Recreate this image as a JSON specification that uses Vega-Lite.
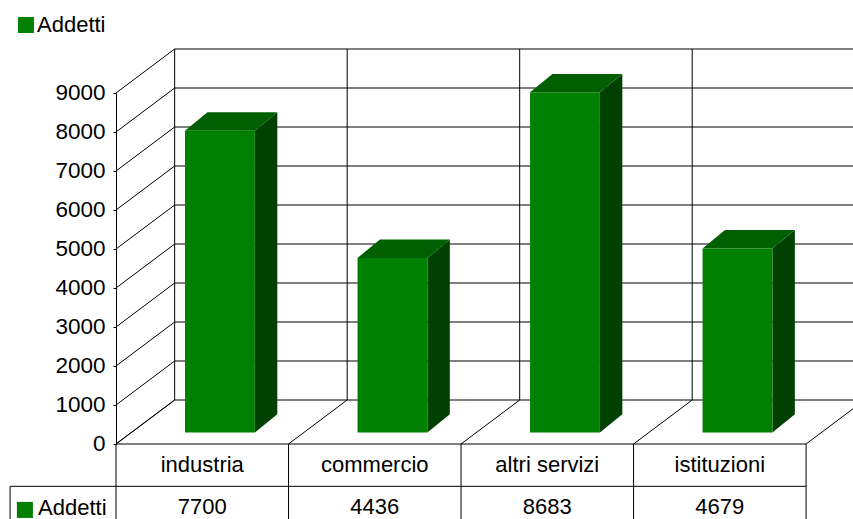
{
"$schema":"https://vega.github.io/schema/vega-lite/v6.json",
"width":737,"height":351,
"autosize":{"type":"none"},
"padding":{"left":116,"top":93,"right":0,"bottom":75},
"background":"white",
"config":{"view":{"stroke":null},"text":{"font":"Liberation Sans","fontSize":22,"color":"#000"},
 "axisY":{"labelFont":"Liberation Sans","grid":false,"format":"d","tickCount":10,"labelFontSize":22.5,"labelColor":"#000","labelPadding":8,"labelOffset":-1,"tickSize":3,"tickColor":"#000","domainColor":"#000","labelOverlap":false,"labelFlush":false},
 "legend":{"labelFont":"Liberation Sans"}},
"datasets":{
"bars":[{"settore":"industria","addetti":7700,"serie":"Addetti"},{"settore":"commercio","addetti":4436,"serie":"Addetti"},{"settore":"altri servizi","addetti":8683,"serie":"Addetti"},{"settore":"istituzioni","addetti":4679,"serie":"Addetti"}],
"levels":[{"v":0},{"v":1000},{"v":2000},{"v":3000},{"v":4000},{"v":5000},{"v":6000},{"v":7000},{"v":8000},{"v":9000}],
"cols":[{"k":0},{"k":1},{"k":2},{"k":3},{"k":4}]
},
"layer":[
{"data":{"name":"levels"},"transform":[{"calculate":"0.34","as":"a"},{"calculate":"4.272","as":"b"},{"calculate":"datum.v+1128","as":"w"}],
 "mark":{"type":"rule","color":"#000","strokeWidth":1},
 "encoding":{"x":{"field":"a","type":"quantitative","scale":{"domain":[0,4.272],"nice":false,"zero":false},"axis":null},"x2":{"field":"b"},
 "y":{"field":"w","type":"quantitative","scale":{"domain":[0,9000],"nice":false,"zero":false},"axis":{"title":null}}}},
{"data":{"name":"levels"},"transform":[{"calculate":"0","as":"a"},{"calculate":"0.34","as":"b"},{"calculate":"datum.v+1128","as":"w"}],
 "mark":{"type":"rule","color":"#000","strokeWidth":1},
 "encoding":{"x":{"field":"a","type":"quantitative","scale":{"domain":[0,4.272],"nice":false,"zero":false},"axis":null},"x2":{"field":"b"},
 "y":{"field":"v","type":"quantitative","scale":{"domain":[0,9000],"nice":false,"zero":false},"axis":{"title":null}},
 "y2":{"field":"w"}}},
{"data":{"name":"cols"},"transform":[{"filter":"datum.k<4"},{"calculate":"datum.k+0.34","as":"a"},{"calculate":"1128","as":"w0"},{"calculate":"10128","as":"w1"}],
 "mark":{"type":"rule","color":"#000","strokeWidth":1},
 "encoding":{"x":{"field":"a","type":"quantitative","scale":{"domain":[0,4.272],"nice":false,"zero":false},"axis":null},
 "y":{"field":"w0","type":"quantitative","scale":{"domain":[0,9000],"nice":false,"zero":false},"axis":{"title":null}},"y2":{"field":"w1"}}},
{"data":{"name":"cols"},"transform":[{"calculate":"datum.k+0.34","as":"a"},{"calculate":"0","as":"w0"},{"calculate":"1128","as":"w1"}],
 "mark":{"type":"rule","color":"#000","strokeWidth":1},
 "encoding":{"x":{"field":"k","type":"quantitative","scale":{"domain":[0,4.272],"nice":false,"zero":false},"axis":null},"x2":{"field":"a"},
 "y":{"field":"w0","type":"quantitative","scale":{"domain":[0,9000],"nice":false,"zero":false},"axis":{"title":null}},"y2":{"field":"w1"}}},
{"data":{"name":"bars"},"transform":[{"calculate":"indexof(['industria','commercio','altri servizi','istituzioni'],datum.settore)","as":"i"},{"calculate":"[0,1]","as":"d"},{"flatten":["d"]},
  {"calculate":"datum.i+0.805+0.13*datum.d","as":"sx"},{"calculate":"datum.addetti+335+470*datum.d","as":"st"},{"calculate":"295+470*datum.d","as":"sb"}],
 "mark":{"type":"area","color":"#004000","orient":"vertical"},
 "encoding":{"x":{"field":"sx","type":"quantitative","scale":{"domain":[0,4.272],"nice":false,"zero":false},"axis":null},
 "y":{"field":"st","type":"quantitative","stack":null,"scale":{"domain":[0,9000],"nice":false,"zero":false},"axis":{"title":null}},"y2":{"field":"sb"},"detail":{"field":"settore"}}},
{"data":{"name":"bars"},"transform":[{"calculate":"indexof(['industria','commercio','altri servizi','istituzioni'],datum.settore)","as":"i"},{"calculate":"[0,1]","as":"d"},{"flatten":["d"]},
  {"calculate":"datum.i+0.4+0.13*datum.d","as":"tl"},{"calculate":"datum.i+0.805+0.13*datum.d","as":"tr"},{"calculate":"datum.addetti+335+470*datum.d","as":"ty"}],
 "mark":{"type":"area","color":"#005f00","orient":"horizontal"},
 "encoding":{"y":{"field":"ty","type":"quantitative","scale":{"domain":[0,9000],"nice":false,"zero":false},"axis":{"title":null}},
 "x":{"field":"tl","type":"quantitative","stack":null,"scale":{"domain":[0,4.272],"nice":false,"zero":false},"axis":null},"x2":{"field":"tr"},"detail":{"field":"settore"}}},
{"data":{"name":"bars"},"transform":[{"calculate":"indexof(['industria','commercio','altri servizi','istituzioni'],datum.settore)","as":"i"},{"calculate":"datum.i+0.4","as":"l"},{"calculate":"datum.i+0.805","as":"r"},{"calculate":"datum.addetti+335","as":"t"},{"calculate":"295","as":"b"}],
 "mark":{"type":"rect"},
 "encoding":{"x":{"field":"l","type":"quantitative","scale":{"domain":[0,4.272],"nice":false,"zero":false},"axis":null},"x2":{"field":"r"},
 "y":{"field":"t","type":"quantitative","scale":{"domain":[0,9000],"nice":false,"zero":false},"axis":{"title":null}},"y2":{"field":"b"},
 "color":{"field":"serie","type":"nominal","scale":{"domain":["Addetti"],"range":["#008000"]},
   "legend":{"title":null,"orient":"none","legendX":-101,"legendY":-79,"symbolType":"square","symbolSize":256,"symbolStrokeWidth":0,"labelFontSize":22,"labelColor":"#000","labelOffset":0}}}},
{"data":{"name":"cols"},"transform":[{"calculate":"0","as":"w0"},{"calculate":"-1930","as":"w1"}],
 "mark":{"type":"rule","color":"#000","strokeWidth":1},
 "encoding":{"x":{"field":"k","type":"quantitative","scale":{"domain":[0,4.272],"nice":false,"zero":false},"axis":null},
 "y":{"field":"w0","type":"quantitative","scale":{"domain":[0,9000],"nice":false,"zero":false},"axis":{"title":null}},"y2":{"field":"w1"}}},
{"data":{"values":[{"a":0,"b":4,"w":0},{"a":-0.614,"b":4,"w":-1085}]},
 "mark":{"type":"rule","color":"#000","strokeWidth":1},
 "encoding":{"x":{"field":"a","type":"quantitative","scale":{"domain":[0,4.272],"nice":false,"zero":false},"axis":null},"x2":{"field":"b"},
 "y":{"field":"w","type":"quantitative","scale":{"domain":[0,9000],"nice":false,"zero":false},"axis":{"title":null}}}},
{"data":{"values":[{"a":-0.614,"w0":-1085,"w1":-1930}]},
 "mark":{"type":"rule","color":"#000","strokeWidth":1},
 "encoding":{"x":{"field":"a","type":"quantitative","scale":{"domain":[0,4.272],"nice":false,"zero":false},"axis":null},
 "y":{"field":"w0","type":"quantitative","scale":{"domain":[0,9000],"nice":false,"zero":false},"axis":{"title":null}},"y2":{"field":"w1"}}},
{"data":{"name":"bars"},"transform":[{"calculate":"indexof(['industria','commercio','altri servizi','istituzioni'],datum.settore)+0.5","as":"c"},{"calculate":"-545","as":"w"}],
 "mark":{"type":"text","align":"center","baseline":"middle"},
 "encoding":{"x":{"field":"c","type":"quantitative","scale":{"domain":[0,4.272],"nice":false,"zero":false},"axis":null},
 "y":{"field":"w","type":"quantitative","scale":{"domain":[0,9000],"nice":false,"zero":false},"axis":{"title":null}},"text":{"field":"settore"}}},
{"data":{"name":"bars"},"transform":[{"calculate":"indexof(['industria','commercio','altri servizi','istituzioni'],datum.settore)+0.5","as":"c"},{"calculate":"-1615","as":"w"}],
 "mark":{"type":"text","align":"center","baseline":"middle"},
 "encoding":{"x":{"field":"c","type":"quantitative","scale":{"domain":[0,4.272],"nice":false,"zero":false},"axis":null},
 "y":{"field":"w","type":"quantitative","scale":{"domain":[0,9000],"nice":false,"zero":false},"axis":{"title":null}},"text":{"field":"addetti","type":"quantitative","format":"d"}}},
{"data":{"values":[{"a":-0.528,"w":-1690,"serie":"Addetti"}]},
 "mark":{"type":"point","shape":"square","filled":true,"size":256,"color":"#008000","opacity":1},
 "encoding":{"x":{"field":"a","type":"quantitative","scale":{"domain":[0,4.272],"nice":false,"zero":false},"axis":null},
 "y":{"field":"w","type":"quantitative","scale":{"domain":[0,9000],"nice":false,"zero":false},"axis":{"title":null}}}},
{"data":{"values":[{"a":-0.452,"w":-1640,"serie":"Addetti"}]},
 "mark":{"type":"text","align":"left","baseline":"middle"},
 "encoding":{"x":{"field":"a","type":"quantitative","scale":{"domain":[0,4.272],"nice":false,"zero":false},"axis":null},
 "y":{"field":"w","type":"quantitative","scale":{"domain":[0,9000],"nice":false,"zero":false},"axis":{"title":null}},"text":{"field":"serie"}}}
]
}
